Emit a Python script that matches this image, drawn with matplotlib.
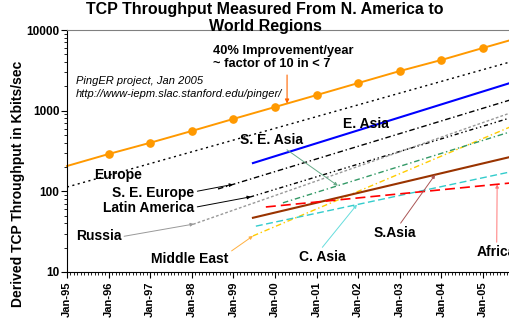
import matplotlib.pyplot as plt
from matplotlib.ticker import MultipleLocator, LogLocator, NullFormatter

plt.rcParams['font.family'] = ['Liberation Sans', 'DejaVu Sans']
plt.rcParams['font.weight'] = 'bold'

# 40%/year reference line, one value per January
ref_years = list(range(1995, 2007))
ref_kbps = [206, 290, 400, 560, 790, 1110, 1560, 2200, 3100, 4250, 5990, 8400]

# fitted trend per region: first date with data, value there, value at Jan-06
regions = ['Europe', 'S. E. Europe', 'E. Asia', 'Latin America', 'Russia',
           'Middle East', 'S. E. Asia', 'S.Asia', 'C. Asia', 'Africa']
start_year = [1995.0, 1998.63, 1999.47, 1999.40, 1998.03,
              1999.47, 2000.19, 1999.47, 1999.54, 1999.78]
start_kbps = [113, 107, 224, 85, 39, 28, 72, 47, 37, 64]
end_kbps = [4510, 1538, 2506, 922, 1081, 748, 621, 294, 190, 132]
end_year = 2006.0

tick_years = list(range(1995, 2006))
tick_labels = ['Jan-95', 'Jan-96', 'Jan-97', 'Jan-98', 'Jan-99', 'Jan-00',
               'Jan-01', 'Jan-02', 'Jan-03', 'Jan-04', 'Jan-05']

styles = {
    'Europe':        dict(color='black', ls=(0, (1.5, 2.5)), lw=1.0),
    'S. E. Europe':  dict(color='black', ls=(0, (4, 2, 1, 2)), lw=1.0),
    'E. Asia':       dict(color='#0000FF', ls='-', lw=1.5),
    'Latin America': dict(color='black', ls=(0, (3, 2, 1, 2, 1, 2)), lw=1.0),
    'Russia':        dict(color='#999999', ls=(0, (2, 1.5)), lw=1.0),
    'Middle East':   dict(color='#FFCC00', ls=(0, (4, 2, 1, 2)), lw=1.0),
    'S. E. Asia':    dict(color='#339966', ls=(0, (4, 2, 1, 2)), lw=1.0),
    'S.Asia':        dict(color='#993300', ls='-', lw=1.5),
    'C. Asia':       dict(color='#33CCCC', ls=(0, (5, 2.5)), lw=1.0),
    'Africa':        dict(color='#FF0000', ls=(0, (6, 3)), lw=1.2),
}


def on_line(name, year):
    i = regions.index(name)
    f = (year - start_year[i]) / (end_year - start_year[i])
    return start_kbps[i] * (end_kbps[i] / start_kbps[i]) ** f


fig = plt.figure(figsize=(5.1, 3.22), dpi=100)
ax = fig.add_axes([67 / 510, 50 / 322, 457.6 / 510, 242 / 322])

ax.plot(ref_years, ref_kbps, color='#FF9900', lw=1.4, marker='o', ms=5.2,
        markevery=slice(1, 11), clip_on=False)

for i, name in enumerate(regions):
    st = styles[name]
    ax.plot([start_year[i], end_year], [start_kbps[i], end_kbps[i]],
            color=st['color'], linestyle=st['ls'], lw=st['lw'])

ax.set_yscale('log')
ax.set_ylim(10, 10000)
ax.set_xlim(1995, 2006)

ax.set_xticks(tick_years)
ax.set_xticklabels(tick_labels, rotation=90, fontsize=8, fontweight='bold')
ax.xaxis.set_minor_locator(MultipleLocator(1 / 12))
ax.set_yticks([10, 100, 1000, 10000])
ax.set_yticklabels(['10', '100', '1000', '10000'], fontsize=8.5, fontweight='bold')
ax.yaxis.set_minor_locator(LogLocator(base=10, subs=range(2, 10)))
ax.yaxis.set_minor_formatter(NullFormatter())
ax.tick_params(axis='both', which='major', direction='out', length=4, width=0.8)
ax.tick_params(axis='both', which='minor', direction='out', length=2.5, width=0.6)
ax.tick_params(axis='y', pad=1.5)
ax.tick_params(axis='x', pad=3)

ax.spines['top'].set_color('#808080')
ax.spines['right'].set_visible(False)
ax.set_ylabel('Derived TCP Throughput in Kbits/sec', fontsize=10,
              fontweight='bold')
ax.yaxis.set_label_coords(-0.092, 0.364)

fig.text(0.52, 0.995, 'TCP Throughput Measured From N. America to\nWorld Regions',
         ha='center', va='top', fontsize=11.5, fontweight='bold')

ax.text(1998.51, 4560, '40% Improvement/year\n~ factor of 10 in < 7',
        ha='left', va='center', fontsize=9.3, fontweight='bold')
ax.annotate('', xy=(2000.29, 1225), xytext=(2000.29, 2767),
            arrowprops=dict(arrowstyle='-|>', color='#FF6600', lw=0.8,
                            mutation_scale=6, shrinkA=0, shrinkB=0))
ax.text(1995.22, 2335, 'PingER project, Jan 2005', style='italic',
        fontweight='normal', fontsize=8, va='center')
ax.text(1995.22, 1611, 'http://www-iepm.slac.stanford.edu/pinger/', style='italic',
        fontweight='normal', fontsize=8, va='center')

# region labels: text, text position, arrow target year, arrow start, arrow colour
labels = [
    ('Europe', 1996.23, 159, None, None, None),
    ('S. E. Europe', 1997.08, 95, 1998.99, (1.0, 0.6), 'black'),
    ('Latin America', 1996.97, 62, 1999.42, (1.0, 0.55), 'black'),
    ('Russia', 1995.76, 27.9, 1998.05, (1.0, 0.45), '#999999'),
    ('Middle East', 1997.96, 14.5, 1999.47, (0.99, 0.9), '#FFB040'),
    ('S. E. Asia', 1999.92, 433, 2001.51, (0.68, 0.0), '#66AA88'),
    ('E. Asia', 2002.18, 684, None, None, None),
    ('C. Asia', 2001.14, 15.3, 2001.97, (0.45, 1.0), '#66DDDD'),
    ('S.Asia', 2002.87, 30.5, 2003.85, (0.6, 1.0), '#AA5555'),
    ('Africa', 2005.33, 17.7, 2005.34, (0.5, 1.0), '#FF7777'),
]
for name, tx, ty, target, rel, col in labels:
    if target is None:
        ax.text(tx, ty, name, ha='center', va='center', fontsize=10,
                fontweight='bold')
    else:
        ax.annotate(name, xy=(target, on_line(name, target)), xytext=(tx, ty),
                    ha='center', va='center', fontsize=10, fontweight='bold',
                    arrowprops=dict(arrowstyle='-|>', color=col, lw=0.7,
                                    mutation_scale=5, relpos=rel,
                                    shrinkA=0, shrinkB=0))

fig.savefig('out.png', dpi=100)
